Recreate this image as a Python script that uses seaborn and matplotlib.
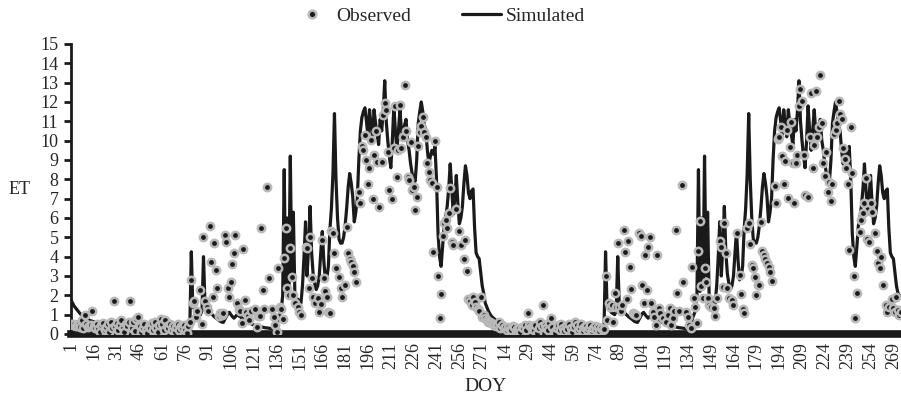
import numpy as np
import pandas as pd
import seaborn as sns
import matplotlib.pyplot as plt
from matplotlib.lines import Line2D

# simulated ET, season 1 (DOY 1-272)
sim_s1 = [
    1.76, 1.6, 1.45, 1.35, 1.25, 1.15, 1.05, 0.98, 0.92, 0.86, 0.8, 0.76, 0.72, 0.68, 0.66,
    0.63, 0.6, 0.58, 0.55, 0.53, 0.51, 0.49, 0.47, 0.46, 0.44, 0.43, 0.42, 0.4, 0.39, 0.38,
    0.37, 0.36, 0.35, 0.34, 0.34, 0.33, 0.32, 0.32, 0.31, 0.3, 0.3, 0.29, 0.29, 0.28, 0.28,
    0.27, 0.27, 0.27, 0.26, 0.26, 0.26, 0.25, 0.25, 0.25, 0.25, 0.24, 0.24, 0.24, 0.24, 0.23,
    0.23, 0.23, 0.23, 0.23, 0.22, 0.22, 0.22, 0.22, 0.22, 0.22, 0.21, 0.21, 0.21, 0.21, 0.21,
    0.2, 0.2, 0.2, 0.3, 4.25, 1.4, 1.3, 1.2, 1.1, 1.05, 1.0, 1.2, 4.0, 1.5, 1.35,
    1.25, 1.15, 1.05, 0.98, 0.9, 0.84, 0.78, 0.72, 0.65, 0.62, 0.6, 0.75, 0.9, 1.05, 1.12,
    1.0, 0.9, 0.82, 0.9, 1.0, 0.95, 0.9, 0.84, 0.78, 0.72, 0.67, 0.62, 0.58, 0.54, 0.5,
    0.47, 0.44, 0.42, 0.4, 0.38, 0.36, 0.35, 0.33, 0.32, 0.31, 0.3, 0.28, 0.27, 0.26, 0.25,
    0.3, 0.8, 1.0, 1.2, 2.0, 8.5, 2.2, 6.0, 2.5, 9.2, 3.0, 6.3, 2.0, 1.8, 1.8,
    1.5, 1.6, 2.5, 4.0, 5.8, 3.0, 4.5, 6.6, 4.2, 3.1, 2.6, 2.3, 2.5, 3.0, 4.2,
    5.3, 3.8, 2.8, 2.9, 3.5, 5.4, 6.5, 8.3, 11.4, 8.0, 6.0, 4.9, 4.7, 4.7, 5.0,
    5.6, 6.5, 7.6, 8.3, 7.8, 7.1, 5.8, 6.3, 7.0, 9.0, 10.5, 11.2, 11.5, 11.7, 11.0,
    10.2, 11.6, 10.8, 10.2, 11.6, 10.9, 10.3, 9.8, 11.1, 10.5, 11.5, 13.1, 11.0, 10.0, 9.2,
    8.6, 10.0, 11.8, 10.5, 9.5, 10.5, 11.6, 10.5, 10.2, 10.8, 11.1, 10.0, 9.5, 8.8, 8.3,
    8.0, 7.9, 9.0, 10.9, 11.5, 12.0, 11.5, 10.8, 10.5, 9.5, 8.8, 9.2, 9.5, 9.3, 9.7,
    8.0, 5.2, 4.0, 3.5, 4.5, 5.6, 6.0, 6.6, 7.5, 8.8, 7.5, 6.2, 7.0, 8.2, 6.8,
    5.7, 6.0, 6.6, 7.8, 8.7, 8.2, 7.3, 7.0, 7.4, 7.5, 5.5, 4.2, 4.0, 3.9, 3.2,
    2.5, 2.1,
]

# observed ET, season 1 (None = no measurement)
obs_s1 = [
    0.5, 0.45, 0.5, 0.4, 0.45, 0.5, 0.35, 0.7, 0.3, 1.0, 0.5, 0.35, 0.4, 0.45, 1.2,
    0.4, 0.3, 0.5, 0.25, 0.1, 0.45, 0.55, 0.2, 0.35, 0.5, 0.1, 0.6, 0.3, 1.7, 0.4,
    0.55, 0.2, 0.45, 0.7, 0.3, 0.1, 0.5, 0.4, 0.6, 1.7, 0.3, 0.6, 0.15, 0.8, 0.9,
    0.4, 0.1, 0.3, 0.5, 0.2, 0.05, 0.4, 0.3, 0.55, 0.2, 0.6, 0.3, 0.1, 0.45, 0.8,
    0.5, 0.2, 0.7, 0.4, 0.3, 0.5, 0.2, 0.4, 0.1, 0.35, 0.5, 0.2, 0.4, 0.3, 0.45,
    0.2, 0.05, 0.4, 0.6, 2.8, 1.6, 1.7, 0.9, 1.2, None, 2.3, 0.5, 5.0, 1.7, 1.4,
    1.2, 5.6, 3.7, 1.9, 4.7, 3.3, 2.4, 0.95, 1.1, 1.0, 1.1, 5.1, 4.75, 2.4, 1.9,
    2.7, 3.6, 4.2, 5.1, 1.6, 1.3, 1.2, 0.55, 4.4, 1.75, 1.16, 0.95, 0.73, 1.2, None,
    None, 1.28, 0.38, 0.95, 0.93, 5.5, 2.3, 1.3, None, 7.6, 2.9, None, 1.28, 0.9, 0.47,
    0.12, 3.4, 1.4, 1.3, 0.76, 3.95, 5.5, 2.36, 2.0, 4.47, 2.97, 2.0, 1.6, None, 1.4,
    1.16, 0.99, None, None, 4.52, 4.43, 2.36, 5.04, 2.88, 1.93, 1.6, None, 1.85, 1.16, 1.55,
    4.86, 2.88, 2.2, 1.93, 1.16, 1.07, 5.35, 5.25, 4.2, 3.4, None, 2.93, 2.36, 1.9, None,
    2.53, 5.55, 4.2, 3.9, 3.74, 3.5, 3.23, 2.7, None, 7.36, 6.76, 9.73, 9.5, 10.3, 9.0,
    7.76, 8.57, 10.04, 6.97, 9.26, 10.52, 8.9, 6.55, None, 8.9, 11.33, 11.97, 11.6, 9.43, 7.45,
    None, 6.97, 9.6, 11.8, 8.14, 9.5, 11.85, 9.6, 10.2, 12.88, 10.5, 8.14, 7.97, 9.95, 7.45,
    7.6, 6.42, 7.1, 9.73, 10.47, 10.76, 11.2, 10.47, 10.2, 8.87, 8.4, 7.97, 7.8, 4.26, 10.0,
    7.59, 3.0, 0.81, 2.07, 5.07, 5.73, 5.9, 5.47, 6.24, 7.54, 4.78, 4.6, None, 6.45, None,
    5.33, 4.6, None, 3.9, 4.86, 3.28, 1.8, 1.7, 1.5, 1.93, 1.68, 1.4, 1.3, 1.2, 1.93,
    0.9, 1.0,
]

# simulated ET, season 2 (DOY 1-274)
sim_s2 = [
    1.6, 1.4, 1.2, 1.05, 0.92, 0.85, 0.78, 0.72, 0.67, 0.63, 0.6, 0.56, 0.53, 0.5, 0.48,
    0.46, 0.44, 0.42, 0.4, 0.38, 0.36, 0.35, 0.33, 0.32, 0.3, 0.29, 0.28, 0.27, 0.26, 0.25,
    0.25, 0.25, 0.24, 0.24, 0.24, 0.23, 0.23, 0.23, 0.23, 0.22, 0.22, 0.22, 0.22, 0.21, 0.21,
    0.21, 0.21, 0.21, 0.2, 0.2, 0.2, 0.2, 0.2, 0.2, 0.2, 0.2, 0.19, 0.19, 0.19, 0.19,
    0.19, 0.19, 0.19, 0.19, 0.18, 0.18, 0.18, 0.18, 0.18, 0.18, 0.18, 0.18, 0.18, 0.18, 0.18,
    0.18, 0.18, 0.18, 0.3, 4.25, 1.4, 1.3, 1.2, 1.1, 1.05, 1.0, 1.2, 4.0, 1.5, 1.35,
    1.25, 1.15, 1.05, 0.98, 0.9, 0.84, 0.78, 0.72, 0.65, 0.62, 0.6, 0.75, 0.9, 1.05, 1.12,
    1.0, 0.9, 0.82, 0.9, 1.0, 0.95, 0.9, 0.84, 0.78, 0.72, 0.67, 0.62, 0.58, 0.54, 0.5,
    0.47, 0.44, 0.42, 0.4, 0.38, 0.36, 0.35, 0.33, 0.32, 0.31, 0.3, 0.28, 0.27, 0.26, 0.25,
    0.3, 0.8, 1.0, 1.2, 2.0, 8.5, 2.2, 6.0, 2.5, 9.2, 3.0, 6.3, 2.0, 1.8, 1.8,
    1.5, 1.6, 2.5, 4.0, 5.8, 3.0, 4.5, 6.6, 4.2, 3.1, 2.6, 2.3, 2.5, 3.0, 4.2,
    5.3, 3.8, 2.8, 2.9, 3.5, 5.4, 6.5, 8.3, 11.4, 8.0, 6.0, 4.9, 4.7, 4.7, 5.0,
    5.6, 6.5, 7.6, 8.3, 7.8, 7.1, 5.8, 6.3, 7.0, 9.0, 10.5, 11.2, 11.5, 11.7, 11.0,
    10.2, 11.6, 10.8, 10.2, 11.6, 10.9, 10.3, 9.8, 11.1, 10.5, 11.5, 13.1, 11.0, 10.0, 9.2,
    8.6, 10.0, 11.8, 10.5, 9.5, 10.5, 11.6, 10.5, 10.2, 10.8, 11.1, 10.0, 9.5, 8.8, 8.3,
    8.0, 7.9, 9.0, 10.9, 11.5, 12.0, 11.5, 10.8, 10.5, 9.5, 8.8, 9.2, 9.5, 9.3, 9.7,
    8.0, 5.2, 4.0, 3.5, 4.5, 5.6, 6.0, 6.6, 7.5, 8.8, 7.5, 6.2, 7.0, 8.2, 6.8,
    5.7, 6.0, 6.6, 7.8, 8.7, 8.2, 7.3, 7.0, 7.4, 7.5, 5.5, 4.2, 4.0, 3.9, 3.2,
    2.5, 2.1, 2.0, 1.9,
]

# observed ET, season 2
obs_s2 = [
    0.81, 0.7, 0.64, 0.6, 0.55, 0.52, 0.45, 0.4, 0.5, 0.64, 0.3, 0.47, 0.3, 0.38, 0.2,
    0.35, 0.25, 0.21, 0.4, 0.38, 0.15, 0.24, 0.3, 0.12, 0.35, 0.3, 0.45, 0.2, 1.1, 0.47,
    0.38, 0.25, 0.2, 0.45, 0.03, 0.3, 0.64, 0.4, 1.5, 0.47, 0.3, 0.2, 0.55, 0.81, 0.38,
    0.1, 0.03, 0.3, 0.45, 0.2, 0.5, 0.3, 0.15, 0.4, 0.25, 0.5, 0.3, 0.1, 0.35, 0.64,
    0.45, 0.2, 0.3, 0.5, 0.15, 0.35, 0.4, 0.2, 0.3, 0.45, 0.15, 0.3, 0.4, 0.2, 0.35,
    0.15, 0.3, 0.2, 0.25, 3.0, 0.73, 1.59, 1.4, 1.5, 0.64, 2.14, 1.4, 4.69, 1.4, 1.2,
    1.5, 5.4, 4.26, 1.8, 4.81, 3.48, 2.31, 1.1, 1.04, 0.99, None, 5.21, 5.07, 2.54, 1.62,
    4.09, 2.28, 4.52, 5.04, 1.59, 1.16, 0.9, 0.47, 4.09, 1.33, 1.07, None, 0.81, None, 0.64,
    1.0, 1.33, 0.47, 0.81, 1.2, 5.38, 2.1, 1.21, None, 7.71, 2.71, None, 1.16, 0.9, 0.47,
    0.3, 3.48, 1.85, 1.4, 0.55, 4.3, 5.86, 2.48, 1.85, 3.43, 2.71, 1.85, 1.5, 1.4, None,
    1.33, 0.93, 1.85, None, 4.81, 4.52, 2.45, 5.73, 4.17, 2.36, 1.85, None, 1.76, 1.5, None,
    5.21, None, 3.05, 2.07, 1.28, 1.1, None, 5.47, 5.76, 4.66, 3.57, 3.4, 2.93, 2.02, 2.54,
    2.54, 5.81, 4.3, 4.09, 3.9, 3.69, 3.48, 3.23, 2.76, None, 7.66, 6.8, 10.07, 10.2, 10.69,
    9.21, 7.76, 8.97, 10.55, 7.02, 9.66, 10.98, 8.87, 6.8, 8.87, 9.26, 11.8, 12.66, 12.07, 9.26,
    7.19, None, 7.1, 10.18, 12.45, 8.57, 9.78, 12.59, 10.2, 10.69, 13.4, 10.9, 8.87, 8.18, 9.43,
    7.36, 7.88, 6.9, 7.76, 10.35, 10.55, 10.93, 12.07, 11.38, 11.1, 9.6, 9.04, 8.6, 7.76, 4.35,
    10.69, 8.31, 3.0, 0.81, 2.14, None, 5.3, 5.9, 6.24, 6.8, 8.05, 4.9, 4.78, 6.8, 6.33,
    None, 5.24, 4.3, 3.69, 3.4, 4.0, 2.54, None, 1.5, 1.16, 1.4, None, 1.8, 1.33, 1.16,
    1.93, 1.24, 0.99, 1.16,
]

doy_s1 = list(range(1, 273))
doy_s2 = list(range(1, 275))

doy = doy_s1 + doy_s2
df = pd.DataFrame({
    "pos": np.arange(len(doy)),
    "DOY": doy,
    "Simulated": sim_s1 + sim_s2,
    "Observed": pd.to_numeric(pd.Series(obs_s1 + obs_s2), errors="coerce"),
})

sns.set_style("white")
plt.rcParams["font.family"] = ["Liberation Serif", "DejaVu Serif"]

dark = "#1a1a1a"
ring = "#b8b8b8"

fig = plt.figure(figsize=(9.01, 4.07), dpi=100)
ax = fig.add_axes([71 / 901, 73 / 407, 830 / 901, 290 / 407])

sns.lineplot(data=df, x="pos", y="Simulated", ax=ax, color=dark,
             linewidth=2.3, estimator=None, zorder=2)
sns.scatterplot(data=df, x="pos", y="Observed", ax=ax, s=28, color=dark,
                edgecolor=ring, linewidth=1.8, zorder=3)

ax.set_xlim(0, len(doy) - 1)
ax.set_ylim(0, 15)
ax.set_yticks(range(16))
ax.set_xticks(df["pos"][::15])
ax.set_xticklabels(df["DOY"][::15], rotation=90)

for s in ["top", "right"]:
    ax.spines[s].set_visible(False)
ax.spines["left"].set_linewidth(2)
ax.spines["left"].set_color(dark)
ax.spines["bottom"].set_linewidth(5.5)
ax.spines["bottom"].set_color(dark)
ax.spines["bottom"].set_zorder(1)

ax.tick_params(axis="y", direction="out", length=5, width=2, color=dark,
               labelsize=13, pad=4, left=True)
ax.tick_params(axis="x", length=0, labelsize=13, pad=6)

ax.set_xlabel("DOY", fontsize=14, va="center")
ax.xaxis.set_label_coords(0.5, -0.18)
ax.set_ylabel("ET", fontsize=13, rotation=0, va="center", ha="center")
ax.yaxis.set_label_coords(-0.062, 0.5)

handles = [
    Line2D([], [], marker="o", linestyle="none", markersize=5.5,
           markerfacecolor=dark, markeredgecolor=ring, markeredgewidth=1.8),
    Line2D([], [], color=dark, linewidth=2.3),
]
fig.legend(handles, ["Observed", "Simulated"], loc="upper center",
           bbox_to_anchor=(0.487, 1.025), ncol=2, frameon=False, fontsize=14,
           handlelength=2.0, columnspacing=2.6, handletextpad=0.28)

fig.savefig("out.png", dpi=100)
